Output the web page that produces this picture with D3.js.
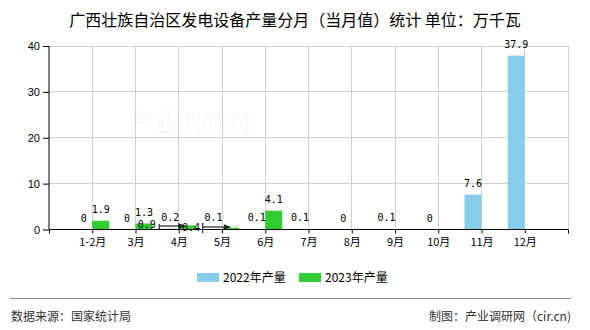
<!DOCTYPE html>
<html><head><meta charset="utf-8">
<script src="https://cdn.jsdelivr.net/npm/d3@7/dist/d3.min.js"></script>
<style>body{margin:0;background:#fff;}svg{display:block;}</style>
</head><body>
<svg id="c" width="590" height="330"></svg>
<script>
const categories = ["1-2月","3月","4月","5月","6月","7月","8月","9月","10月","11月","12月"];
const series2022 = [0,0,0.2,0.1,0.1,0.1,0,0.1,0,7.6,37.9];
const series2023 = [1.9,1.3,0.9,0.4,4.1,null,null,null,null,null,null];
const yTicks = [0,10,20,30,40];
const seriesNames = ["2022年产量","2023年产量"];
const colors = ["#87CEEB","#32CD32"];

const svg = d3.select("#c");
const L = 49, R = 568, T = 46, B = 229.5;
const x = d3.scalePoint().domain(["", ...categories, " "]).range([L, R]);
const y = d3.scaleLinear().domain([0, 40]).range([B, T]);
const bw = 17;
const cjk = "'Noto Sans CJK SC','Noto Sans',sans-serif";
const mono = "'DejaVu Sans Mono','Liberation Mono',monospace";

// title
svg.append("text").attr("x", 295).attr("y", 26).attr("text-anchor","middle")
  .attr("font-family", cjk).attr("font-size", 16).attr("fill","#000")
  .text("广西壮族自治区发电设备产量分月（当月值）统计 单位：万千瓦");

// watermark
svg.append("text").attr("x", 190).attr("y", 132).attr("text-anchor","middle")
  .attr("font-family", cjk).attr("font-size", 24).attr("fill","#d04040").attr("opacity",0.03)
  .text("产业调研网");

// grid
const g = svg.append("g");
g.selectAll(".hg").data(yTicks.filter(d => d > 0)).join("line")
  .attr("x1", L).attr("x2", R).attr("y1", d => y(d)).attr("y2", d => y(d))
  .attr("stroke", "#d0d0d0").attr("stroke-width", 1).attr("shape-rendering","crispEdges");
g.selectAll(".vg").data(x.domain().slice(1)).join("line")
  .attr("x1", d => x(d)).attr("x2", d => x(d)).attr("y1", T).attr("y2", B)
  .attr("stroke", "#d0d0d0").attr("stroke-width", 1).attr("shape-rendering","crispEdges");

// bars
const bars = svg.append("g");
bars.selectAll(".b1").data(categories).join("rect")
  .attr("x", d => x(d) - bw).attr("width", bw)
  .attr("y", (d,i) => y(series2022[i])).attr("height", (d,i) => B - y(series2022[i]))
  .attr("fill", colors[0]);
bars.selectAll(".b2").data(categories.filter((d,i) => series2023[i] != null)).join("rect")
  .attr("x", d => x(d)).attr("width", bw)
  .attr("y", (d,i) => y(series2023[i])).attr("height", (d,i) => B - y(series2023[i]))
  .attr("fill", colors[1]);

// axes
const ya = svg.append("g").attr("transform", `translate(${L},0)`)
  .call(d3.axisLeft(y).tickValues(yTicks).tickSize(6).tickPadding(3));
ya.selectAll("text").attr("font-family","'Liberation Sans',Arial,sans-serif").attr("font-size", 11).attr("fill","#000");
ya.selectAll("line,path").attr("stroke","#000");
ya.select("path").attr("d", `M0,${T}V${B}`);

const xa = svg.append("g").attr("transform", `translate(0,${B})`)
  .call(d3.axisBottom(x).tickSize(4).tickPadding(5));
xa.selectAll("text").attr("font-family", cjk).attr("font-size", 11).attr("fill","#000");
xa.selectAll("line,path").attr("stroke","#000");
xa.select("path").attr("d", `M${L},0H${R}`);

// value labels
const lab = svg.append("g").attr("font-family", mono).attr("font-size", 10).attr("fill","#000").attr("text-anchor","middle");
categories.forEach((c, i) => {
  lab.append("text").attr("x", x(c) - bw/2).attr("y", y(series2022[i]) - 8).text(series2022[i]);
  const v = series2023[i];
  if (v == null) return;
  if (c === "4月") {
    lab.append("text").attr("x", x(c) - 32).attr("y", B - 2).text(v);
  } else if (c === "5月") {
    lab.append("text").attr("x", x(c) - 31).attr("y", B + 1.5).text(v);
  } else {
    lab.append("text").attr("x", x(c) + bw/2).attr("y", y(v) - 8).text(v);
  }
});

// displaced-label arrows
const defs = svg.append("defs");
defs.append("marker").attr("id","ah").attr("viewBox","0 0 10 10").attr("refX",9).attr("refY",5)
  .attr("markerWidth",6).attr("markerHeight",6).attr("orient","auto")
  .append("path").attr("d","M0,1L10,5L0,9z").attr("fill","#222");
const arr = svg.append("g").attr("stroke","#222").attr("stroke-width",1.2);
[["4月", -19.5, 6, 226, 224, 230], ["5月", -19.3, 8, 227, 223, 233]].forEach(([c, a, b, yy, v1, v2]) => {
  const p = x(c);
  arr.append("line").attr("x1", p + a).attr("x2", p + a).attr("y1", v1).attr("y2", v2);
  arr.append("line").attr("x1", p + a).attr("x2", p + b).attr("y1", yy).attr("y2", yy).attr("marker-end","url(#ah)");
});

// legend
const lg = svg.append("g");
[[197, 0],[299, 1]].forEach(([lx, i]) => {
  lg.append("rect").attr("x", lx).attr("y", 273).attr("width", 22).attr("height", 9).attr("fill", colors[i]);
  lg.append("text").attr("x", lx + 26).attr("y", 281.5).attr("font-family", cjk).attr("font-size", 12)
    .attr("fill","#000").text(seriesNames[i]);
});

// footer
svg.append("line").attr("x1", 10).attr("x2", 571).attr("y1", 298.5).attr("y2", 298.5)
  .attr("stroke","#888").attr("stroke-width",1.2);
svg.append("text").attr("x", 11).attr("y", 321).attr("font-family", cjk).attr("font-size", 12)
  .attr("fill","#333").text("数据来源：国家统计局");
svg.append("text").attr("x", 571).attr("y", 321).attr("text-anchor","end").attr("font-family", cjk).attr("font-size", 12)
  .attr("fill","#333").text("制图：产业调研网（cir.cn)");
</script>
</body></html>
